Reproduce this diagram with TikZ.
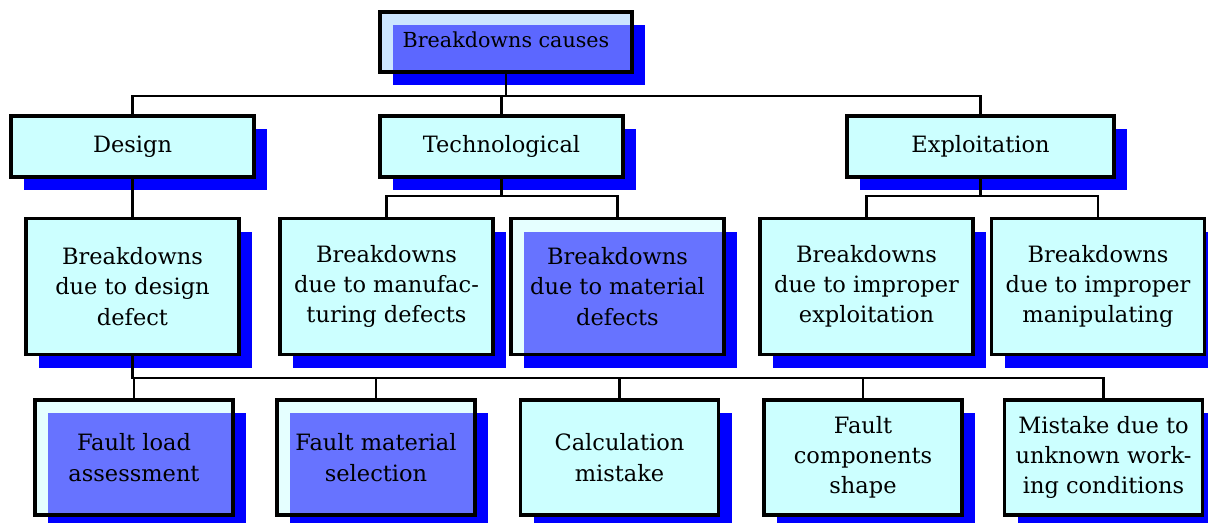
\documentclass[tikz,border=0pt]{standalone}
\usepackage{fontspec}
\setmainfont{DejaVu Serif}
\usetikzlibrary{shadows}
\definecolor{boxcyan}{RGB}{204,255,255}
\definecolor{boxpale}{RGB}{229,255,255}
\definecolor{rootblue}{RGB}{204,229,255}

\begin{document}
\begin{tikzpicture}[x=0.025cm,y=-0.025cm,
    cause/.style={draw=black,line width=2.6pt,fill=boxcyan,align=center,inner sep=0pt,
        font=\fontsize{16}{21.5}\selectfont,
        drop shadow={shadow xshift=0.33cm,shadow yshift=-0.33cm,fill=blue,opacity=1}},
    hilite/.style={path picture={
        \fill[blue,opacity=0.55] ([xshift=0.33cm,yshift=-0.33cm]path picture bounding box.north west)
            rectangle (path picture bounding box.south east);}},
    link/.style={line width=1.7pt}]
    \useasboundingbox (0,0) rectangle (1208,523);

    % top
    \node (root) [cause,hilite,fill=rootblue,minimum width=6.3cm,minimum height=1.5cm,
        font=\fontsize{14.7}{20}\selectfont] at (506,42) {\raisebox{4pt}{Breakdowns causes}};

    % groups
    \node (design) [cause,minimum width=6.075cm,minimum height=1.525cm] at (132.5,146.5) {Design};
    \node (techno) [cause,minimum width=6.075cm,minimum height=1.525cm] at (501.5,146.5) {Technological};
    \node (exploit) [cause,minimum width=6.675cm,minimum height=1.525cm] at (980.5,146.5) {Exploitation};

    % breakdowns
    \node (designdef) [cause,minimum width=5.325cm,minimum height=3.4cm] at (132.5,286.5) {Breakdowns\\due to design\\defect};
    \node (manufdef) [cause,minimum width=5.325cm,minimum height=3.4cm] at (386.5,286.5) {Breakdowns\\due to manufac-\\turing defects};
    \node (materdef) [cause,hilite,fill=boxpale,minimum width=5.325cm,minimum height=3.4cm] at (617.5,286.5) {Breakdowns\\due to material\\defects};
    \node (improp) [cause,minimum width=5.325cm,minimum height=3.4cm] at (866.5,286.5) {Breakdowns\\due to improper\\exploitation};
    \node (manip) [cause,minimum width=5.325cm,minimum height=3.4cm] at (1098,286.5) {Breakdowns\\due to improper\\manipulating};

    % design faults
    \node (fload) [cause,hilite,fill=boxpale,minimum width=4.95cm,minimum height=2.875cm] at (134,457.5) {Fault load\\assessment};
    \node (fmater) [cause,hilite,fill=boxpale,minimum width=4.95cm,minimum height=2.875cm] at (376,457.5) {Fault material\\selection};
    \node (calc) [cause,minimum width=4.95cm,minimum height=2.875cm] at (619.5,457.5) {Calculation\\mistake};
    \node (fshape) [cause,minimum width=4.95cm,minimum height=2.875cm] at (863,457.5) {Fault\\components\\shape};
    \node (unknown) [cause,minimum width=4.95cm,minimum height=2.875cm] at (1103.5,457.5) {Mistake due to\\unknown work-\\ing conditions};

    \coordinate (bus1) at (0,96);
    \coordinate (bus2) at (0,196);
    \coordinate (bus3) at (0,378);

    \draw[link] (root.south) -- (root.south |- bus1);
    \draw[link] (design.north) |- (bus1 -| exploit.north) -- (exploit.north);
    \draw[link] (techno.north) -- (techno.north |- bus1);
    \draw[link] (design.south) -- (designdef.north);

    \draw[link] (techno.south) -- (techno.south |- bus2);
    \draw[link] (manufdef.north) |- (bus2 -| materdef.north) -- (materdef.north);
    \draw[link] (exploit.south) -- (exploit.south |- bus2);
    \draw[link] (improp.north) |- (bus2 -| manip.north) -- (manip.north);

    \draw[link] (designdef.south) |- (bus3 -| unknown.north) -- (unknown.north);
    \foreach \n in {fload,fmater,calc,fshape}
        \draw[link] (\n.north) -- (\n.north |- bus3);
\end{tikzpicture}
\end{document}
